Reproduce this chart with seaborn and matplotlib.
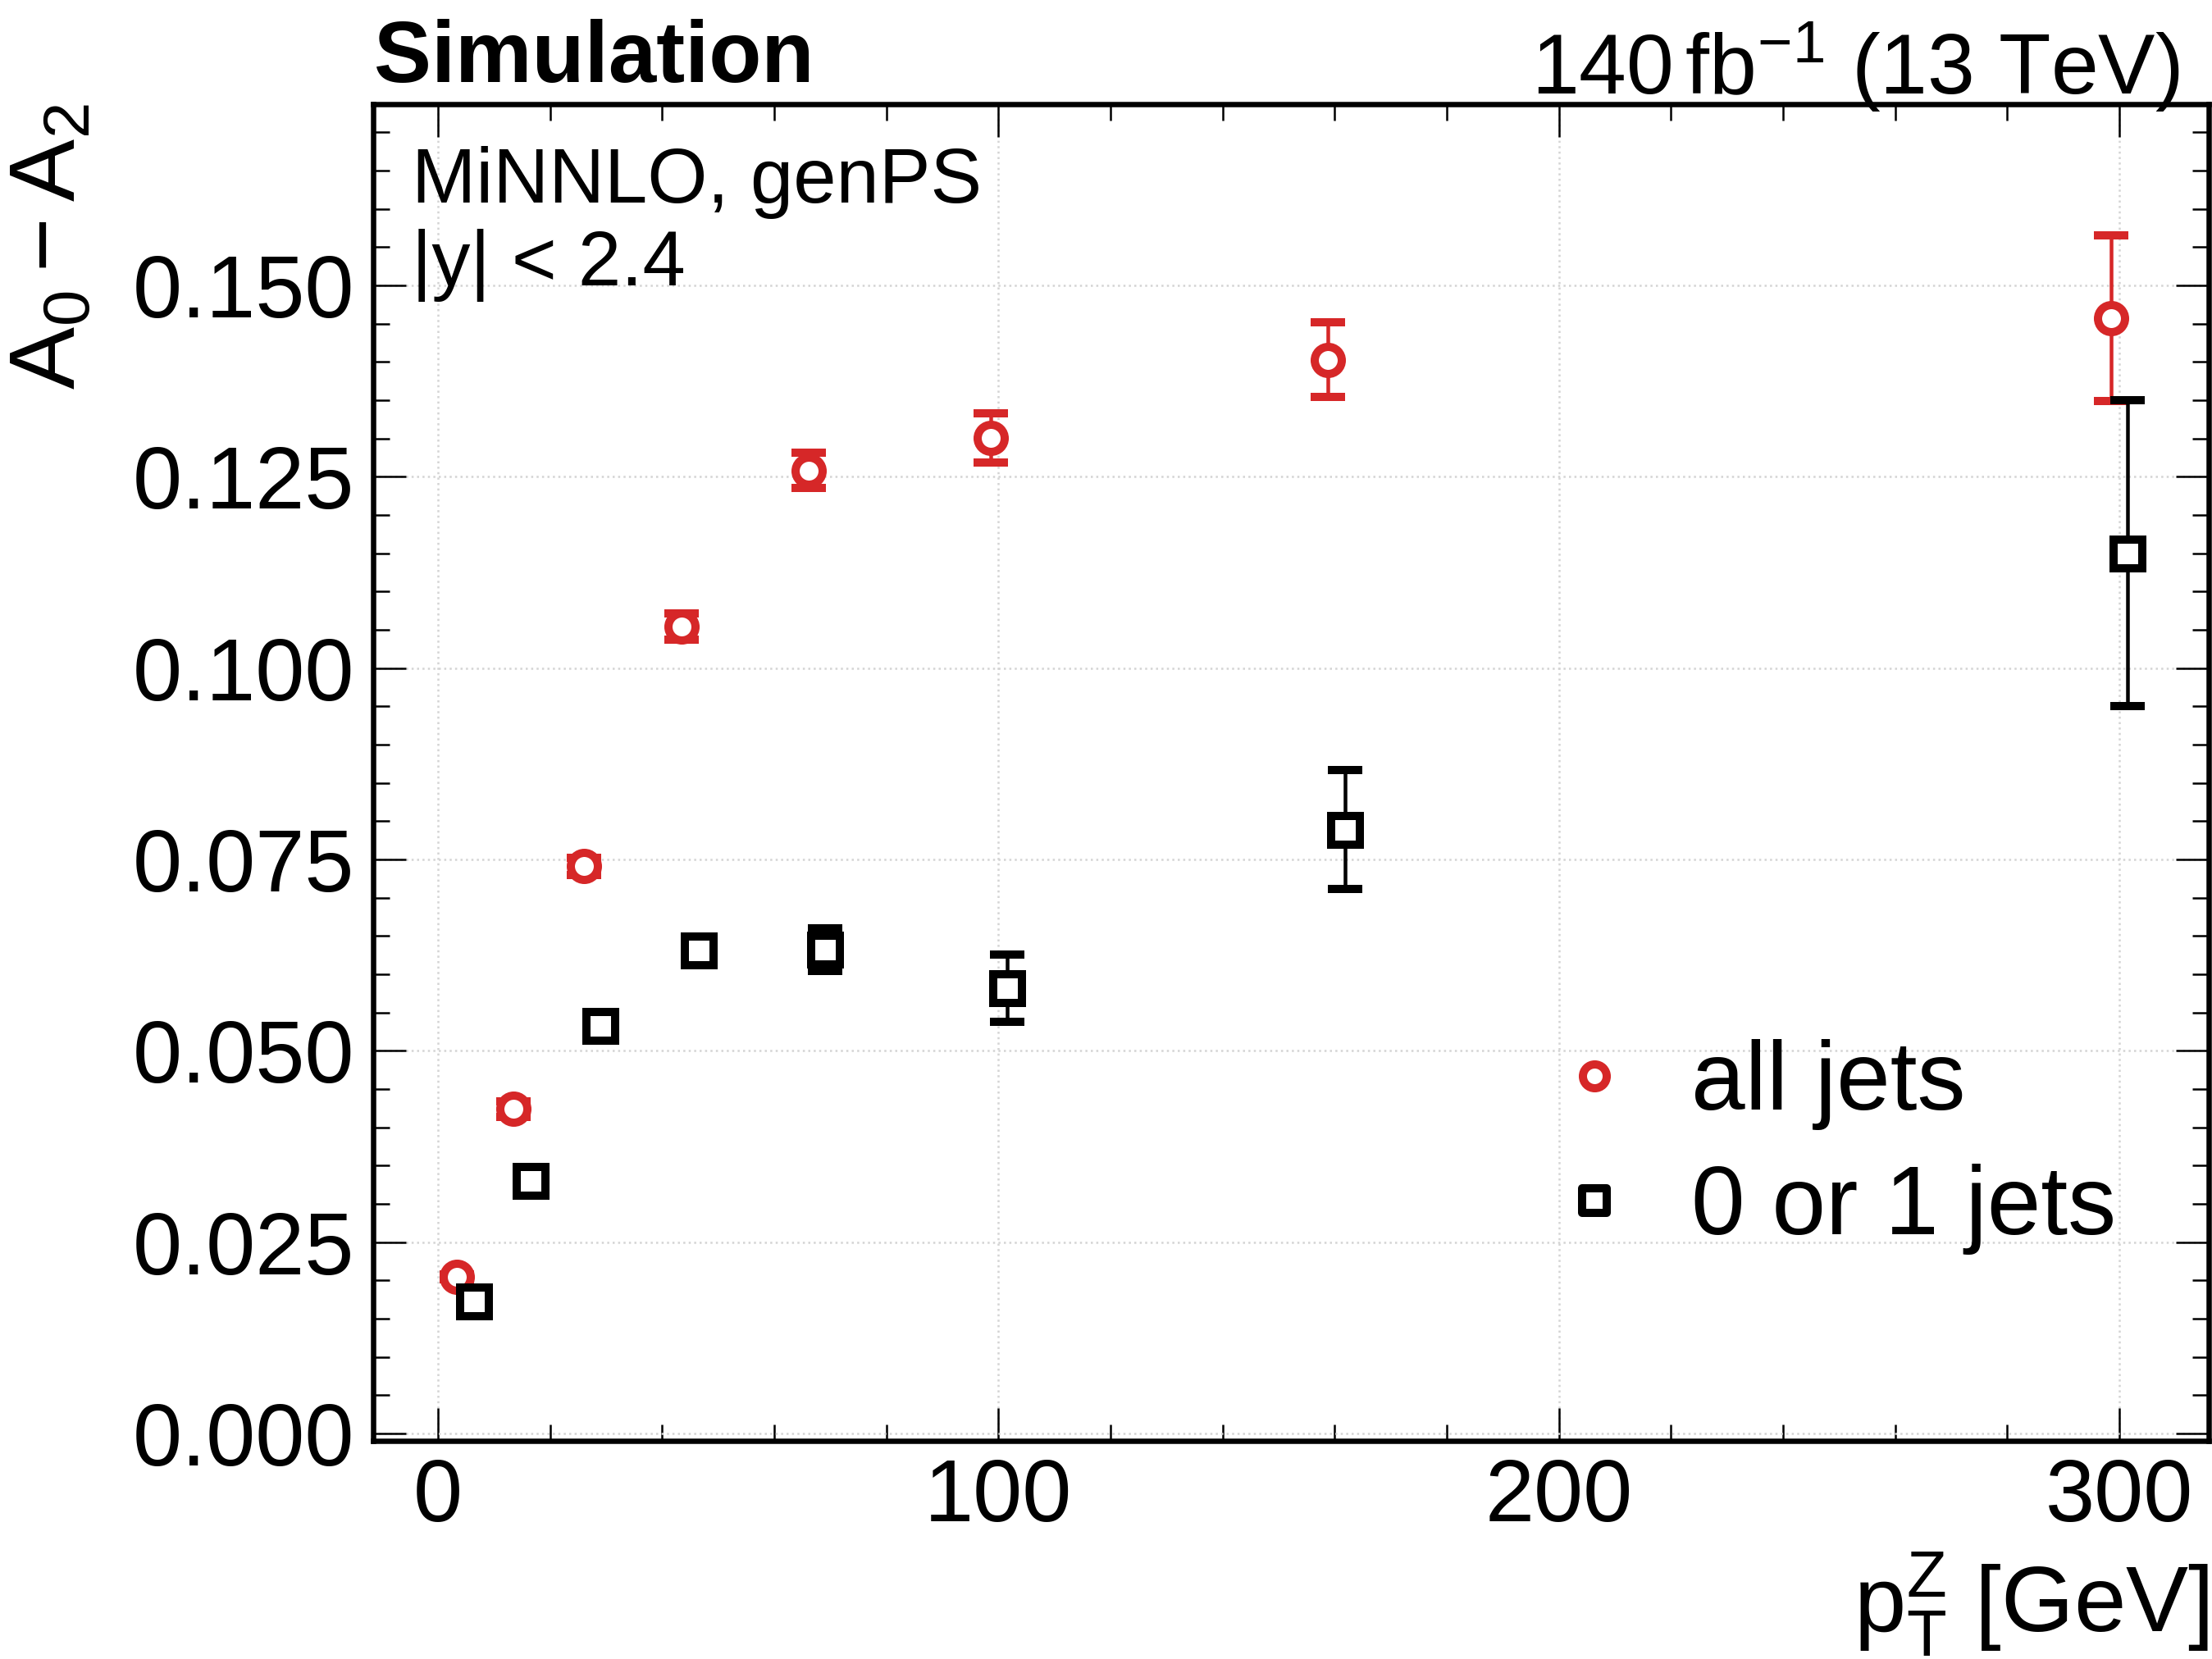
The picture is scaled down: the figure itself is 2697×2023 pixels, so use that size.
import numpy as np
import pandas as pd
import matplotlib
matplotlib.use("Agg")
import matplotlib.pyplot as plt
from matplotlib.ticker import MultipleLocator, FormatStrFormatter
import seaborn as sns

# ---------------- data ----------------
all_x = [3.4, 13.5, 26.1, 43.5, 66.1, 98.7, 158.8, 298.5]
all_y = [0.0205, 0.0424, 0.0741, 0.1054, 0.1258, 0.1301, 0.1403, 0.1457]
all_err = [0.0003, 0.0010, 0.0011, 0.0017, 0.0023, 0.0032, 0.0049, 0.0108]

low_x = [6.5, 16.5, 29.0, 46.6, 69.1, 101.6, 161.9, 301.5]
low_y = [0.0173, 0.0330, 0.0533, 0.0631, 0.0632, 0.0582, 0.0789, 0.1150]
low_err = [0.0004, 0.0006, 0.0008, 0.0012, 0.0028, 0.0044, 0.0078, 0.0200]

series_labels = ["all jets", "0 or 1 jets"]
x_ticks = [0, 100, 200, 300]
y_ticks = [0.000, 0.025, 0.050, 0.075, 0.100, 0.125, 0.150]

RED = "#d62728"
BLACK = "#000000"

# ---------------- style ----------------
sns.set_theme(style="ticks")
plt.rcParams["font.family"] = ["Liberation Sans", "DejaVu Sans"]
plt.rcParams["mathtext.fontset"] = "custom"
plt.rcParams["mathtext.rm"] = "Liberation Sans"
plt.rcParams["mathtext.it"] = "Liberation Sans"
plt.rcParams["mathtext.bf"] = "Liberation Sans:bold"
plt.rcParams["mathtext.default"] = "regular"
plt.rcParams["axes.linewidth"] = 6.5
plt.rcParams["text.color"] = "black"
plt.rcParams["axes.labelcolor"] = "black"
plt.rcParams["xtick.color"] = "black"
plt.rcParams["ytick.color"] = "black"
plt.rcParams["legend.labelcolor"] = "black"

W, H = 2697, 2023
fig = plt.figure(figsize=(W / 72, H / 72), dpi=72)
fig.patch.set_facecolor("white")
ax = fig.add_axes([455 / W, (H - 1757) / H, 2238 / W, 1630 / H])
ax.set_facecolor("white")

df_all = pd.DataFrame({"x": all_x, "y": all_y, "err": all_err})
df_low = pd.DataFrame({"x": low_x, "y": low_y, "err": low_err})

# error bars
ax.errorbar(df_all["x"], df_all["y"], yerr=df_all["err"], fmt="none",
            ecolor=RED, elinewidth=4.5, capsize=21, capthick=10, zorder=3)
ax.errorbar(df_low["x"], df_low["y"], yerr=df_low["err"], fmt="none",
            ecolor=BLACK, elinewidth=4.5, capsize=21, capthick=10, zorder=3)

# markers
sns.scatterplot(data=df_all, x="x", y="y", marker="o", s=33 ** 2,
                color="white", edgecolor=RED, linewidth=10,
                label=series_labels[0], zorder=4, ax=ax)
sns.scatterplot(data=df_low, x="x", y="y", marker="s", s=35 ** 2,
                color="white", edgecolor=BLACK, linewidth=10,
                label=series_labels[1], zorder=4, ax=ax)
for coll in ax.collections:
    try:
        coll.set_joinstyle("miter")
    except Exception:
        pass

# axes limits / ticks
ax.set_xlim(-11.56, 315.96)
ax.set_ylim(-0.00096, 0.17368)
ax.set_xticks(x_ticks)
ax.set_yticks(y_ticks)
ax.xaxis.set_minor_locator(MultipleLocator(20))
ax.yaxis.set_minor_locator(MultipleLocator(0.005))
ax.yaxis.set_major_formatter(FormatStrFormatter("%.3f"))
ax.tick_params(which="both", direction="in", top=True, right=True,
               colors="black", labelcolor="black")
ax.tick_params(which="major", length=40, width=2.5, labelsize=108)
ax.tick_params(which="minor", length=20, width=2.5)
ax.tick_params(axis="x", which="major", pad=20)
ax.tick_params(axis="y", which="major", pad=23)
for sp in ax.spines.values():
    sp.set_linewidth(6.5)
    sp.set_color("black")

ax.grid(True, which="major", linestyle=":", color="#d4d4d4", linewidth=2.5)
ax.set_axisbelow(True)

# axis labels
ax.set_ylabel(r"$A_0 - A_2$", fontsize=114, loc="top", color="black")
ax.yaxis.set_label_coords(-0.1515, 1.0)
ax.set_xlabel(r"$p_{T}^{Z}$ [GeV]", fontsize=114, loc="right", color="black")
ax.xaxis.set_label_coords(1.0, -0.082)

# legend
leg = ax.legend(loc="center left",
                bbox_to_anchor=(1885 / W, 1 - 1398.5 / H),
                bbox_transform=fig.transFigure,
                frameon=False, fontsize=118, handlelength=1.0,
                handletextpad=0.5, labelspacing=0.35, borderpad=0,
                borderaxespad=0, markerscale=0.88, scatteryoffsets=[0.5],
                labelcolor="black")

# texts
fig.text(456 / W, 1 - 100 / H, "Simulation", fontsize=105, fontweight="bold",
         ha="left", va="baseline", color="black")
fig.text(2657 / W, 1 - 115 / H, r"140$\,$fb$^{-1}$ (13 TeV)", fontsize=104,
         ha="right", va="baseline", color="black")
fig.text(502 / W, 1 - 247 / H, "MiNNLO, genPS", fontsize=94,
         ha="left", va="baseline", color="black")
fig.text(502 / W, 1 - 348 / H, "|y| < 2.4", fontsize=94,
         ha="left", va="baseline", color="black")

fig.savefig("out.png", dpi=72, facecolor="white")
